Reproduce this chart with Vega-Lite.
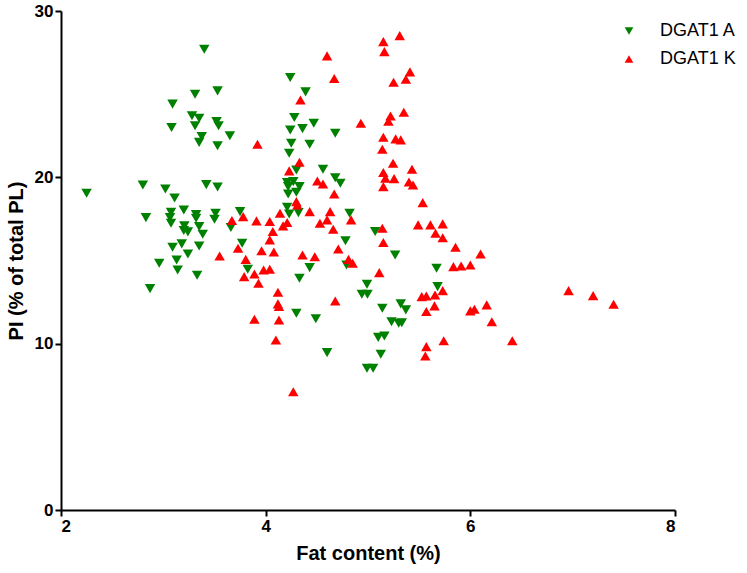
{
  "$schema": "https://vega.github.io/schema/vega-lite/v6.json",
  "width": 614,
  "height": 499,
  "autosize": {"type": "none"},
  "padding": {"left": 61, "top": 11, "right": 72, "bottom": 63},
  "background": "white",
  "config": {"view": {"stroke": null}},
  "datasets": {
    "pts": [
      {"g":"DGAT1 A","fat":3.40,"pi":27.7},{"g":"DGAT1 A","fat":3.31,"pi":25.0},{"g":"DGAT1 A","fat":3.53,"pi":25.2},{"g":"DGAT1 A","fat":3.09,"pi":24.4},
      {"g":"DGAT1 A","fat":3.28,"pi":23.7},{"g":"DGAT1 A","fat":3.35,"pi":23.55},{"g":"DGAT1 A","fat":3.31,"pi":23.1},{"g":"DGAT1 A","fat":3.52,"pi":23.35},
      {"g":"DGAT1 A","fat":3.54,"pi":23.1},{"g":"DGAT1 A","fat":3.08,"pi":23.0},{"g":"DGAT1 A","fat":3.375,"pi":22.45},{"g":"DGAT1 A","fat":3.35,"pi":22.1},
      {"g":"DGAT1 A","fat":3.65,"pi":22.5},{"g":"DGAT1 A","fat":3.53,"pi":21.9},{"g":"DGAT1 A","fat":2.25,"pi":19.04},{"g":"DGAT1 A","fat":2.80,"pi":19.54},
      {"g":"DGAT1 A","fat":3.02,"pi":19.3},{"g":"DGAT1 A","fat":3.11,"pi":18.76},{"g":"DGAT1 A","fat":3.42,"pi":19.56},{"g":"DGAT1 A","fat":3.53,"pi":19.42},
      {"g":"DGAT1 A","fat":2.83,"pi":17.58},{"g":"DGAT1 A","fat":3.075,"pi":17.9},{"g":"DGAT1 A","fat":3.20,"pi":18.04},{"g":"DGAT1 A","fat":3.32,"pi":17.76},
      {"g":"DGAT1 A","fat":3.51,"pi":17.84},{"g":"DGAT1 A","fat":3.065,"pi":17.58},{"g":"DGAT1 A","fat":3.075,"pi":17.24},{"g":"DGAT1 A","fat":3.32,"pi":17.54},
      {"g":"DGAT1 A","fat":3.50,"pi":17.48},{"g":"DGAT1 A","fat":3.205,"pi":17.08},{"g":"DGAT1 A","fat":3.20,"pi":16.8},{"g":"DGAT1 A","fat":3.24,"pi":16.72},
      {"g":"DGAT1 A","fat":3.35,"pi":17.04},{"g":"DGAT1 A","fat":3.385,"pi":16.58},{"g":"DGAT1 A","fat":3.75,"pi":17.94},{"g":"DGAT1 A","fat":3.66,"pi":16.98},
      {"g":"DGAT1 A","fat":3.09,"pi":15.8},{"g":"DGAT1 A","fat":3.18,"pi":16.0},{"g":"DGAT1 A","fat":3.24,"pi":15.39},{"g":"DGAT1 A","fat":3.35,"pi":15.87},
      {"g":"DGAT1 A","fat":2.96,"pi":14.83},{"g":"DGAT1 A","fat":3.13,"pi":15.03},{"g":"DGAT1 A","fat":3.14,"pi":14.43},{"g":"DGAT1 A","fat":3.33,"pi":14.11},
      {"g":"DGAT1 A","fat":2.87,"pi":13.31},{"g":"DGAT1 A","fat":3.77,"pi":16.04},{"g":"DGAT1 A","fat":3.825,"pi":14.47},{"g":"DGAT1 A","fat":4.24,"pi":26.0},
      {"g":"DGAT1 A","fat":4.39,"pi":25.14},{"g":"DGAT1 A","fat":4.28,"pi":23.6},{"g":"DGAT1 A","fat":4.47,"pi":23.25},{"g":"DGAT1 A","fat":4.24,"pi":22.85},
      {"g":"DGAT1 A","fat":4.36,"pi":22.93},{"g":"DGAT1 A","fat":4.68,"pi":22.65},{"g":"DGAT1 A","fat":4.25,"pi":22.05},{"g":"DGAT1 A","fat":4.43,"pi":21.99},
      {"g":"DGAT1 A","fat":4.23,"pi":21.45},{"g":"DGAT1 A","fat":4.30,"pi":20.44},{"g":"DGAT1 A","fat":4.56,"pi":20.49},{"g":"DGAT1 A","fat":4.68,"pi":19.98},
      {"g":"DGAT1 A","fat":4.73,"pi":19.64},{"g":"DGAT1 A","fat":4.21,"pi":19.68},{"g":"DGAT1 A","fat":4.27,"pi":19.74},{"g":"DGAT1 A","fat":4.33,"pi":19.44},
      {"g":"DGAT1 A","fat":4.22,"pi":19.44},{"g":"DGAT1 A","fat":4.22,"pi":19.0},{"g":"DGAT1 A","fat":4.30,"pi":19.1},{"g":"DGAT1 A","fat":4.21,"pi":18.2},
      {"g":"DGAT1 A","fat":4.32,"pi":17.88},{"g":"DGAT1 A","fat":4.23,"pi":17.8},{"g":"DGAT1 A","fat":4.82,"pi":17.84},{"g":"DGAT1 A","fat":5.07,"pi":16.74},
      {"g":"DGAT1 A","fat":4.78,"pi":16.19},{"g":"DGAT1 A","fat":5.265,"pi":15.33},{"g":"DGAT1 A","fat":4.79,"pi":14.73},{"g":"DGAT1 A","fat":4.43,"pi":14.57},
      {"g":"DGAT1 A","fat":4.33,"pi":13.93},{"g":"DGAT1 A","fat":4.99,"pi":13.57},{"g":"DGAT1 A","fat":4.94,"pi":12.97},{"g":"DGAT1 A","fat":4.995,"pi":12.97},
      {"g":"DGAT1 A","fat":4.30,"pi":11.83},{"g":"DGAT1 A","fat":4.49,"pi":11.5},{"g":"DGAT1 A","fat":5.14,"pi":12.13},{"g":"DGAT1 A","fat":5.32,"pi":12.39},
      {"g":"DGAT1 A","fat":5.37,"pi":12.03},{"g":"DGAT1 A","fat":5.23,"pi":11.32},{"g":"DGAT1 A","fat":5.30,"pi":11.23},{"g":"DGAT1 A","fat":5.33,"pi":11.26},
      {"g":"DGAT1 A","fat":5.67,"pi":14.53},{"g":"DGAT1 A","fat":5.68,"pi":13.43},{"g":"DGAT1 A","fat":4.60,"pi":9.46},{"g":"DGAT1 A","fat":5.10,"pi":10.38},
      {"g":"DGAT1 A","fat":5.16,"pi":10.46},{"g":"DGAT1 A","fat":5.125,"pi":9.36},{"g":"DGAT1 A","fat":4.99,"pi":8.52},{"g":"DGAT1 A","fat":5.05,"pi":8.52},
      {"g":"DGAT1 K","fat":3.67,"pi":17.4},{"g":"DGAT1 K","fat":3.78,"pi":17.64},{"g":"DGAT1 K","fat":3.91,"pi":17.38},{"g":"DGAT1 K","fat":3.73,"pi":15.74},
      {"g":"DGAT1 K","fat":3.55,"pi":15.27},{"g":"DGAT1 K","fat":3.805,"pi":15.07},{"g":"DGAT1 K","fat":3.79,"pi":14.03},{"g":"DGAT1 K","fat":3.89,"pi":14.19},
      {"g":"DGAT1 K","fat":3.93,"pi":13.63},{"g":"DGAT1 K","fat":3.89,"pi":11.47},{"g":"DGAT1 K","fat":5.15,"pi":28.16},{"g":"DGAT1 K","fat":5.31,"pi":28.52},
      {"g":"DGAT1 K","fat":5.16,"pi":27.56},{"g":"DGAT1 K","fat":4.60,"pi":27.3},{"g":"DGAT1 K","fat":4.67,"pi":25.94},{"g":"DGAT1 K","fat":5.41,"pi":26.34},
      {"g":"DGAT1 K","fat":5.37,"pi":25.9},{"g":"DGAT1 K","fat":5.25,"pi":25.72},{"g":"DGAT1 K","fat":4.34,"pi":24.65},{"g":"DGAT1 K","fat":5.35,"pi":23.91},
      {"g":"DGAT1 K","fat":5.22,"pi":23.69},{"g":"DGAT1 K","fat":5.20,"pi":23.37},{"g":"DGAT1 K","fat":4.93,"pi":23.25},{"g":"DGAT1 K","fat":3.92,"pi":21.99},
      {"g":"DGAT1 K","fat":5.15,"pi":22.41},{"g":"DGAT1 K","fat":5.27,"pi":22.31},{"g":"DGAT1 K","fat":5.32,"pi":22.25},{"g":"DGAT1 K","fat":5.14,"pi":21.69},
      {"g":"DGAT1 K","fat":4.33,"pi":20.91},{"g":"DGAT1 K","fat":5.245,"pi":20.85},{"g":"DGAT1 K","fat":4.23,"pi":20.39},{"g":"DGAT1 K","fat":5.15,"pi":20.29},
      {"g":"DGAT1 K","fat":5.43,"pi":20.49},{"g":"DGAT1 K","fat":5.17,"pi":19.95},{"g":"DGAT1 K","fat":5.255,"pi":19.92},{"g":"DGAT1 K","fat":4.505,"pi":19.78},
      {"g":"DGAT1 K","fat":4.56,"pi":19.6},{"g":"DGAT1 K","fat":5.40,"pi":19.72},{"g":"DGAT1 K","fat":5.44,"pi":19.54},{"g":"DGAT1 K","fat":5.15,"pi":19.44},
      {"g":"DGAT1 K","fat":4.67,"pi":19.0},{"g":"DGAT1 K","fat":5.535,"pi":18.48},{"g":"DGAT1 K","fat":4.30,"pi":18.54},{"g":"DGAT1 K","fat":4.31,"pi":18.34},
      {"g":"DGAT1 K","fat":4.14,"pi":17.84},{"g":"DGAT1 K","fat":4.43,"pi":17.94},{"g":"DGAT1 K","fat":4.63,"pi":17.94},{"g":"DGAT1 K","fat":4.60,"pi":17.44},
      {"g":"DGAT1 K","fat":4.53,"pi":17.24},{"g":"DGAT1 K","fat":4.835,"pi":17.44},{"g":"DGAT1 K","fat":4.04,"pi":17.34},{"g":"DGAT1 K","fat":4.17,"pi":17.08},
      {"g":"DGAT1 K","fat":4.21,"pi":17.28},{"g":"DGAT1 K","fat":4.07,"pi":16.74},{"g":"DGAT1 K","fat":4.66,"pi":16.88},{"g":"DGAT1 K","fat":5.14,"pi":16.94},
      {"g":"DGAT1 K","fat":5.49,"pi":17.14},{"g":"DGAT1 K","fat":5.61,"pi":17.14},{"g":"DGAT1 K","fat":5.66,"pi":16.64},{"g":"DGAT1 K","fat":4.04,"pi":16.24},
      {"g":"DGAT1 K","fat":5.15,"pi":16.08},{"g":"DGAT1 K","fat":3.96,"pi":15.59},{"g":"DGAT1 K","fat":4.08,"pi":15.51},{"g":"DGAT1 K","fat":4.71,"pi":15.69},
      {"g":"DGAT1 K","fat":4.36,"pi":15.33},{"g":"DGAT1 K","fat":4.48,"pi":15.23},{"g":"DGAT1 K","fat":4.81,"pi":15.07},{"g":"DGAT1 K","fat":4.85,"pi":14.83},
      {"g":"DGAT1 K","fat":3.98,"pi":14.43},{"g":"DGAT1 K","fat":4.04,"pi":14.47},{"g":"DGAT1 K","fat":5.11,"pi":14.27},{"g":"DGAT1 K","fat":4.12,"pi":13.09},
      {"g":"DGAT1 K","fat":4.12,"pi":12.39},{"g":"DGAT1 K","fat":4.13,"pi":12.23},{"g":"DGAT1 K","fat":4.68,"pi":12.57},{"g":"DGAT1 K","fat":4.13,"pi":11.42},
      {"g":"DGAT1 K","fat":5.525,"pi":12.83},{"g":"DGAT1 K","fat":5.57,"pi":12.87},{"g":"DGAT1 K","fat":5.655,"pi":12.93},{"g":"DGAT1 K","fat":5.65,"pi":12.27},
      {"g":"DGAT1 K","fat":5.57,"pi":11.93},{"g":"DGAT1 K","fat":4.10,"pi":10.22},{"g":"DGAT1 K","fat":4.27,"pi":7.11},{"g":"DGAT1 K","fat":5.57,"pi":9.82},
      {"g":"DGAT1 K","fat":5.56,"pi":9.26},{"g":"DGAT1 K","fat":5.73,"pi":17.2},{"g":"DGAT1 K","fat":5.73,"pi":16.37},{"g":"DGAT1 K","fat":5.855,"pi":15.8},
      {"g":"DGAT1 K","fat":6.10,"pi":15.39},{"g":"DGAT1 K","fat":5.835,"pi":14.63},{"g":"DGAT1 K","fat":5.91,"pi":14.67},{"g":"DGAT1 K","fat":6.00,"pi":14.73},
      {"g":"DGAT1 K","fat":5.73,"pi":13.19},{"g":"DGAT1 K","fat":6.00,"pi":11.97},{"g":"DGAT1 K","fat":6.04,"pi":12.07},{"g":"DGAT1 K","fat":6.16,"pi":12.33},
      {"g":"DGAT1 K","fat":6.21,"pi":11.32},{"g":"DGAT1 K","fat":6.96,"pi":13.19},{"g":"DGAT1 K","fat":7.20,"pi":12.89},{"g":"DGAT1 K","fat":7.40,"pi":12.37},
      {"g":"DGAT1 K","fat":5.74,"pi":10.18},{"g":"DGAT1 K","fat":6.41,"pi":10.18}
    ]
  },
  "data": {"name": "pts"},
  "mark": {"type": "point", "filled": true, "opacity": 1, "size": 110, "strokeWidth": 0},
  "encoding": {
    "x": {
      "field": "fat", "type": "quantitative",
      "scale": {"domain": [2, 8], "nice": false, "zero": false},
      "axis": {
        "title": "Fat content (%)", "values": [2, 4, 6, 8], "grid": false,
        "domainColor": "black", "domainWidth": 2, "tickColor": "black", "tickWidth": 2, "tickSize": 6,
        "labelFont": "Liberation Sans", "labelFontWeight": "bold", "labelFontSize": 17, "labelColor": "black", "labelPadding": 2,
        "titleFont": "Liberation Sans", "titleFontWeight": "bold", "titleFontSize": 20, "titleColor": "black", "titlePadding": 9
      }
    },
    "y": {
      "field": "pi", "type": "quantitative",
      "scale": {"domain": [0, 30], "nice": false},
      "axis": {
        "title": "PI (% of total PL)", "values": [0, 10, 20, 30], "grid": false,
        "domainColor": "black", "domainWidth": 2, "tickColor": "black", "tickWidth": 2, "tickSize": 6,
        "labelFont": "Liberation Sans", "labelFontWeight": "bold", "labelFontSize": 17, "labelColor": "black", "labelPadding": 2,
        "titleFont": "Liberation Sans", "titleFontWeight": "bold", "titleFontSize": 20, "titleColor": "black", "titlePadding": 8
      }
    },
    "color": {
      "field": "g", "type": "nominal",
      "scale": {"domain": ["DGAT1 A", "DGAT1 K"], "range": ["#008000", "#ff0000"]},
      "legend": {
        "title": null, "orient": "none", "legendX": 559, "legendY": 11,
        "labelFont": "Liberation Sans", "labelFontSize": 18, "labelColor": "black",
        "symbolSize": 75, "rowPadding": 10, "labelOffset": 22
      }
    },
    "shape": {
      "field": "g", "type": "nominal",
      "scale": {"domain": ["DGAT1 A", "DGAT1 K"], "range": ["triangle-down", "triangle-up"]}
    }
  }
}
